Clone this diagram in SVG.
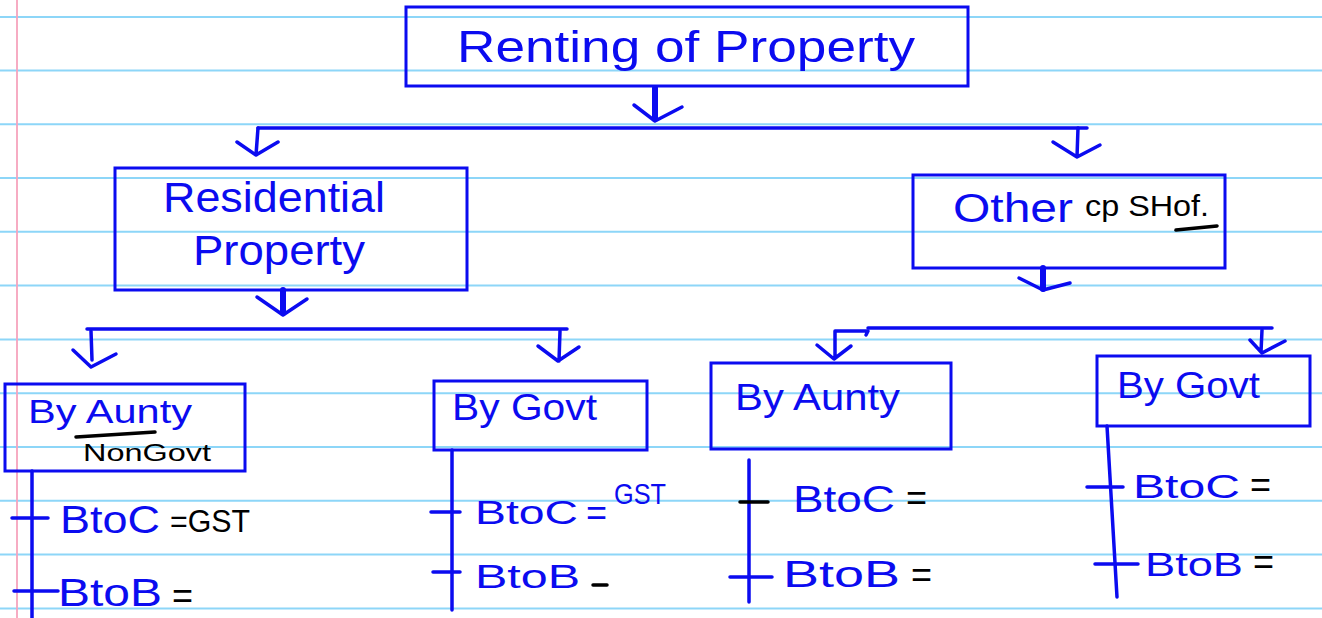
<svg xmlns="http://www.w3.org/2000/svg" width="1322" height="618" viewBox="0 0 1322 618">
<style>
.rule{stroke:#8dd6f8;stroke-width:2}
.box{fill:none;stroke:#0b0bf0;stroke-width:3}
.ln{fill:none;stroke:#0b0bf0;stroke-width:3.5;stroke-linecap:round;stroke-linejoin:round}
.thick{fill:none;stroke:#0b0bf0;stroke-width:6;stroke-linecap:round;stroke-linejoin:round}
.bk{fill:none;stroke:#000;stroke-width:3.5;stroke-linecap:round}
.t{font-family:"Liberation Sans",Arial,sans-serif;fill:#0b0bf0}
.k{font-family:"Liberation Sans",Arial,sans-serif;fill:#000}
.eq{font-family:"Liberation Sans",Arial,sans-serif;fill:#000;font-size:36px}
</style>
<rect width="1322" height="618" fill="#fff"/>
<g id="paper">
<line class="rule" x1="0" y1="17" x2="1322" y2="17"/>
<line class="rule" x1="0" y1="70.5" x2="1322" y2="70.5"/>
<line class="rule" x1="0" y1="124.3" x2="1322" y2="124.3"/>
<line class="rule" x1="0" y1="178" x2="1322" y2="178"/>
<line class="rule" x1="0" y1="231.8" x2="1322" y2="231.8"/>
<line class="rule" x1="0" y1="285.6" x2="1322" y2="285.6"/>
<line class="rule" x1="0" y1="339.4" x2="1322" y2="339.4"/>
<line class="rule" x1="0" y1="393.2" x2="1322" y2="393.2"/>
<line class="rule" x1="0" y1="447" x2="1322" y2="447"/>
<line class="rule" x1="0" y1="500.8" x2="1322" y2="500.8"/>
<line class="rule" x1="0" y1="554.6" x2="1322" y2="554.6"/>
<line class="rule" x1="0" y1="608.4" x2="1322" y2="608.4"/>
<line x1="17" y1="0" x2="17" y2="618" stroke="#f6a3bd" stroke-width="1.8"/>
</g>
<g id="connectors">
<path class="thick" d="M655 88 L655 119"/>
<path class="ln" d="M634 105 L655 121 L682 107"/>
<path class="ln" d="M258 128 L1087 128"/>
<path class="ln" d="M258 128 L256 155 M237 142 L256 155 L278 142"/>
<path class="ln" d="M1078 128 L1077 157 M1053 142 L1077 157 L1100 145"/>
<path class="thick" d="M283 290 L283 313"/>
<path class="ln" d="M257 297 L283 315 L307 299"/>
<path class="ln" d="M87 329 L567 329"/>
<path class="ln" d="M91 331 L92 360 M73 350 L91 367 L116 354"/>
<path class="ln" d="M560 331 L559 361 M538 346 L558 361 L579 347"/>
<path class="thick" d="M1043 268 L1043 289"/>
<path class="ln" d="M1019 278 L1043 290 L1070 283"/>
<path class="ln" d="M868 328 L1272 328"/>
<path class="ln" d="M835 331 L868 331 L866 335 M835 331 L835 358 M817 345 L834 359 L851 346"/>
<path class="ln" d="M1262 330 L1261 352 M1250 340 L1262 353 L1285 341"/>
<path class="ln" d="M32 471 L32 618 M12 518 L48 518 M14 591 L58 591"/>
<path class="ln" d="M452 450 L452 610 M431 512 L460 512 M433 572 L460 572"/>
<path class="ln" d="M749 460 L749 602 M730 577 L772 577"/>
<path class="bk" d="M740 502 L768 502"/>
<path class="ln" d="M1107 426 L1117 597 M1087 487 L1123 487 M1095 564 L1138 564"/>
</g>
<g id="n-root">
<rect class="box" x="406" y="7" width="562" height="79"/>
<text class="t" x="457" y="62" font-size="44" textLength="458" lengthAdjust="spacingAndGlyphs">Renting of Property</text>
</g>
<g id="n-residential">
<rect class="box" x="115" y="168" width="352" height="122"/>
<text class="t" x="163" y="212" font-size="42" textLength="222" lengthAdjust="spacingAndGlyphs">Residential</text>
<text class="t" x="193" y="265" font-size="42" textLength="172" lengthAdjust="spacingAndGlyphs">Property</text>
</g>
<g id="n-other">
<rect class="box" x="913" y="175" width="312" height="93"/>
<text class="t" x="953" y="222" font-size="40" textLength="120" lengthAdjust="spacingAndGlyphs">Other</text>
<text class="k" x="1085" y="216" font-size="30" textLength="124" lengthAdjust="spacingAndGlyphs">cp SHof.</text>
<path class="bk" d="M1176 230 L1217 226" stroke-width="4.5"/>
</g>
<g id="n-res-aunty">
<rect class="box" x="5" y="384" width="240" height="87"/>
<text class="t" x="28" y="423" font-size="34" textLength="164" lengthAdjust="spacingAndGlyphs">By Aunty</text>
<path class="bk" d="M76 437 L155 432" stroke-width="2.5"/>
<text class="k" x="83" y="461" font-size="23" textLength="128" lengthAdjust="spacingAndGlyphs">NonGovt</text>
<text class="t" x="60" y="533" font-size="38" textLength="100" lengthAdjust="spacingAndGlyphs">BtoC</text>
<text class="k" x="170" y="532" font-size="32" textLength="80" lengthAdjust="spacingAndGlyphs">=GST</text>
<text class="t" x="58" y="606" font-size="38" textLength="104" lengthAdjust="spacingAndGlyphs">BtoB</text>
<text class="eq" x="172" y="608">=</text>
</g>
<g id="n-res-govt">
<rect class="box" x="434" y="381" width="213" height="69"/>
<text class="t" x="452" y="420" font-size="36" textLength="145" lengthAdjust="spacingAndGlyphs">By Govt</text>
<text class="t" x="475" y="524" font-size="34" textLength="103" lengthAdjust="spacingAndGlyphs">BtoC</text>
<text class="t" x="586" y="525" font-size="36">=</text>
<text class="t" x="614" y="504" font-size="30" textLength="52" lengthAdjust="spacingAndGlyphs">GST</text>
<text class="t" x="475" y="588" font-size="34" textLength="105" lengthAdjust="spacingAndGlyphs">BtoB</text>
<path class="bk" d="M593 585 L607 585" stroke-width="2.5"/>
</g>
<g id="n-oth-aunty">
<rect class="box" x="711" y="363" width="240" height="86"/>
<text class="t" x="735" y="410" font-size="36" textLength="165" lengthAdjust="spacingAndGlyphs">By Aunty</text>
<text class="t" x="793" y="512" font-size="36" textLength="102" lengthAdjust="spacingAndGlyphs">BtoC</text>
<text class="eq" x="906" y="510">=</text>
<text class="t" x="783" y="587" font-size="36" textLength="117" lengthAdjust="spacingAndGlyphs">BtoB</text>
<text class="eq" x="911" y="587">=</text>
</g>
<g id="n-oth-govt">
<rect class="box" x="1097" y="356" width="213" height="70"/>
<text class="t" x="1117" y="398" font-size="36" textLength="143" lengthAdjust="spacingAndGlyphs">By Govt</text>
<text class="t" x="1133" y="498" font-size="34" textLength="107" lengthAdjust="spacingAndGlyphs">BtoC</text>
<text class="eq" x="1250" y="497" font-size="30">=</text>
<text class="t" x="1145" y="576" font-size="34" textLength="98" lengthAdjust="spacingAndGlyphs">BtoB</text>
<text class="eq" x="1253" y="574" font-size="30">=</text>
</g>
</svg>
